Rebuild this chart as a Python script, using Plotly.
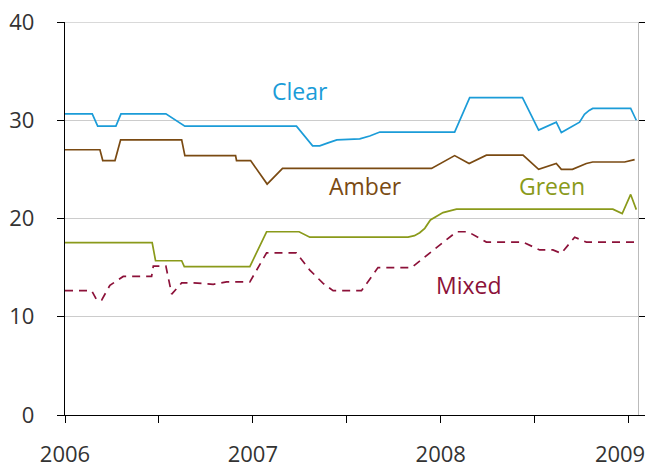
import plotly.graph_objects as go

# dates as decimal years
clear_x = [2006.0, 2006.145, 2006.174, 2006.271, 2006.298, 2006.537, 2006.638, 2007.232,
           2007.318, 2007.356, 2007.40, 2007.447, 2007.569, 2007.622, 2007.676, 2008.074,
           2008.154, 2008.435, 2008.521, 2008.615, 2008.642, 2008.739, 2008.765, 2008.79,
           2008.809, 2009.011, 2009.041]
clear_y = [30.65, 30.65, 29.4, 29.4, 30.65, 30.65, 29.4, 29.4,
           27.4, 27.4, 27.7, 28.0, 28.1, 28.4, 28.8, 28.8,
           32.3, 32.3, 29.0, 29.8, 28.75, 29.8, 30.6, 31.0,
           31.2, 31.2, 30.0]

amber_x = [2006.0, 2006.186, 2006.201, 2006.266, 2006.296, 2006.621, 2006.638, 2006.908,
           2006.913, 2006.988, 2007.076, 2007.158, 2007.951, 2008.074, 2008.151, 2008.243,
           2008.438, 2008.521, 2008.615, 2008.642, 2008.701, 2008.775, 2008.809, 2008.979,
           2009.032]
amber_y = [27.0, 27.0, 25.9, 25.9, 28.0, 28.0, 26.4, 26.4,
           25.9, 25.9, 23.5, 25.1, 25.1, 26.4, 25.6, 26.45,
           26.45, 25.0, 25.6, 25.0, 25.0, 25.6, 25.75, 25.75,
           26.0]

green_x = [2006.0, 2006.464, 2006.482, 2006.621, 2006.635, 2006.984, 2007.073, 2007.246,
           2007.303, 2007.826, 2007.86, 2007.888, 2007.915, 2007.945, 2008.012, 2008.084,
           2008.916, 2008.966, 2009.011, 2009.041]
green_y = [17.55, 17.55, 15.7, 15.7, 15.1, 15.1, 18.65, 18.65,
           18.1, 18.1, 18.25, 18.55, 19.0, 19.85, 20.6, 20.95,
           20.95, 20.5, 22.45, 20.9]

mixed_x = [2006.0, 2006.142, 2006.169, 2006.195, 2006.239, 2006.31, 2006.461, 2006.47,
           2006.537, 2006.568, 2006.621, 2006.682, 2006.789, 2006.86, 2006.984, 2007.073,
           2007.232, 2007.303, 2007.374, 2007.427, 2007.578, 2007.666, 2007.844, 2007.897,
           2008.084, 2008.145, 2008.243, 2008.438, 2008.527, 2008.597, 2008.642, 2008.713,
           2008.775, 2009.041]
mixed_y = [12.65, 12.65, 11.7, 11.7, 13.2, 14.1, 14.1, 15.15,
           15.15, 12.3, 13.45, 13.45, 13.3, 13.55, 13.55, 16.5,
           16.5, 14.75, 13.4, 12.65, 12.65, 15.0, 15.0, 15.8,
           18.65, 18.65, 17.6, 17.6, 16.8, 16.8, 16.45, 18.1,
           17.6, 17.6]

year_ticks = [2006, 2007, 2008, 2009]
year_labels = ["2006", "2007", "2008", "2009\u00a0\u00a0\u00a0"]
y_ticks = [0, 10, 20, 30, 40]

c_clear = "#1b9cd8"
c_amber = "#7a4a12"
c_green = "#8a9a1a"
c_mixed = "#8c1139"

fig = go.Figure()
fig.add_trace(go.Scatter(x=clear_x, y=clear_y, mode="lines", line=dict(color=c_clear, width=1.7)))
fig.add_trace(go.Scatter(x=amber_x, y=amber_y, mode="lines", line=dict(color=c_amber, width=1.7)))
fig.add_trace(go.Scatter(x=green_x, y=green_y, mode="lines", line=dict(color=c_green, width=1.7)))
fig.add_trace(go.Scatter(x=mixed_x, y=mixed_y, mode="lines",
                         line=dict(color=c_mixed, width=1.7, dash="8px,6px")))
# dummy trace so the right-hand axis is drawn
fig.add_trace(go.Scatter(x=[None], y=[None], yaxis="y2", hoverinfo="skip"))

labels = [("Clear", 2007.25, 33.0, c_clear),
          ("Amber", 2007.6, 23.3, c_amber),
          ("Green", 2008.59, 23.3, c_green),
          ("Mixed", 2008.15, 13.2, c_mixed)]
for txt, lx, ly, col in labels:
    fig.add_annotation(x=lx, y=ly, text=txt, showarrow=False,
                       font=dict(size=23, color=col, family="Open Sans"))

# top gridline (plotly drops grid lines at the very edge of the range)
fig.add_shape(type="line", xref="paper", yref="y", x0=0, x1=1, y0=40, y1=40,
              line=dict(color="#cccccc", width=1.3), layer="below")

# the page adds an 8px body margin, so the figure is 8px smaller than the window
font = dict(family="Open Sans", size=22, color="#333333")
fig.update_layout(
    width=645, height=462,
    margin=dict(l=57, r=15, t=14, b=55),
    paper_bgcolor="white", plot_bgcolor="white",
    showlegend=False,
    font=font,
    xaxis=dict(range=[2006, 2009.05], tickvals=year_ticks, ticktext=year_labels,
               ticks="outside", ticklen=7, tickcolor="black", tickwidth=1.3,
               showline=True, linecolor="black", linewidth=1.3, automargin=False,
               showgrid=False, zeroline=False, ticklabelstandoff=12,
               ticklabeloverflow="allow",
               minor=dict(dtick=0.5, tick0=2006, ticks="outside", ticklen=7,
                          tickcolor="black", tickwidth=1.3, showgrid=False)),
    yaxis=dict(range=[0, 40], tickvals=y_ticks, ticks="outside", ticklen=7,
               tickcolor="black", tickwidth=1.3, showline=True, linecolor="black",
               linewidth=1.3, showgrid=True, gridcolor="#cccccc", gridwidth=1.3,
               zeroline=False, ticklabelstandoff=18, automargin=False,
               ticklabeloverflow="allow"),
    yaxis2=dict(range=[0, 40], overlaying="y", side="right", tickvals=y_ticks,
                showticklabels=False, ticks="outside", ticklen=7, tickcolor="black",
                tickwidth=1.3, showline=True, linecolor="#bbbbbb", linewidth=1.3,
                showgrid=False, zeroline=False, automargin=False),
)

fig.write_html("out.html")
